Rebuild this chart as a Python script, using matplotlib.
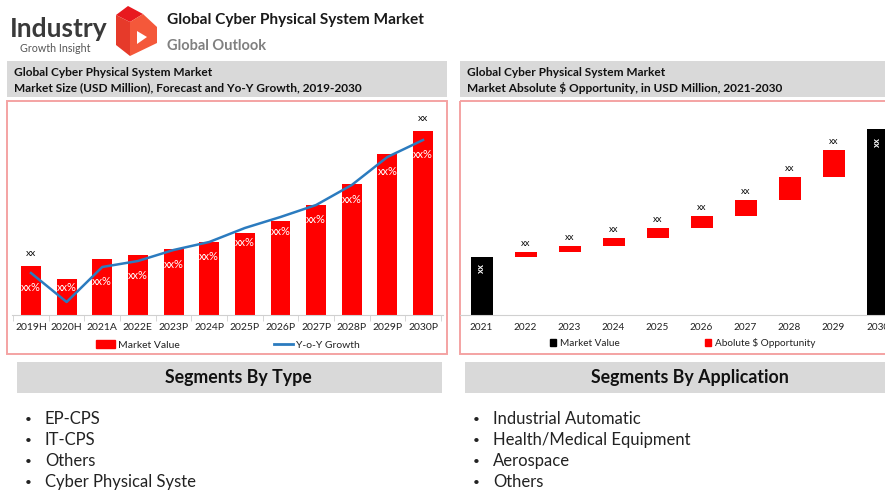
import numpy as np
import matplotlib
matplotlib.use("Agg")
import matplotlib.pyplot as plt
from matplotlib.patches import Rectangle, Polygon, Patch
from matplotlib.lines import Line2D

plt.rcParams['font.family'] = ['Lato', 'DejaVu Sans']

# ---------------- data ----------------
years_left = ["2019H", "2020H", "2021A", "2022E", "2023P", "2024P",
              "2025P", "2026P", "2027P", "2028P", "2029P", "2030P"]
market_value = [49, 36, 56, 60, 66, 73, 82, 94, 110, 131, 161, 184]
yoy_growth = [42, 13, 48, 54, 65, 73, 87, 98, 110, 130, 158, 175]

years_right = ["2021", "2022", "2023", "2024", "2025", "2026",
               "2027", "2028", "2029", "2030"]
start_value = 58
increments = [5, 6, 8, 10, 12, 16, 23, 27]
end_value = 186

type_segments = ["EP-CPS", "IT-CPS", "Others", "Cyber Physical Syste"]
app_segments = ["Industrial Automatic", "Health/Medical Equipment",
                "Aerospace", "Others"]

W, H = 885, 490
RED = "#ff0000"
BLUE = "#2b7bbf"
GREY_BOX = "#d9d9d9"
PANEL = "#f4a3a3"

fig = plt.figure(figsize=(W / 100, H / 100), dpi=100)


def fax(x0, y0, x1, y1):
    return [x0 / W, 1 - y1 / H, (x1 - x0) / W, (y1 - y0) / H]


# overlay in pixel coordinates for decorations
ov = fig.add_axes([0, 0, 1, 1], zorder=0)
ov.set_xlim(0, W)
ov.set_ylim(H, 0)
ov.axis("off")

# logo
ov.add_patch(Polygon([(116, 15), (128, 6), (143, 14), (130, 22)], closed=True,
                     color="#e8191f", lw=0))
ov.add_patch(Polygon([(116, 15), (130, 22), (130, 56), (116, 45)], closed=True,
                     color="#e63a2a", lw=0))
ov.add_patch(Polygon([(130, 22), (143, 14), (157, 27), (157, 43), (130, 56)],
                     closed=True, color="#f4583a", lw=0))
ov.add_patch(Polygon([(137, 31), (147, 37), (137, 44)], closed=True,
                     color="white", lw=0))
ov.text(10, 37, "Industry", fontsize=19, fontweight="bold", color="#3a3a3a",
        va="baseline", ha="left")
ov.text(20, 48.5, "Growth Insight", fontsize=7.7, color="#555555",
        va="center", ha="left")
ov.text(167, 20, "Global Cyber Physical System Market", fontsize=11.1,
        fontweight="bold", color="#1a1a1a", va="center", ha="left")
ov.text(167, 46, "Global Outlook", fontsize=10.5, fontweight="bold",
        color="#808080", va="center", ha="left")

# header boxes
ov.add_patch(Rectangle((7, 61), 440, 36, color=GREY_BOX, lw=0))
ov.add_patch(Rectangle((460, 61), 430, 36, color=GREY_BOX, lw=0))
hfs = 8.6
ov.text(14, 72, "Global Cyber Physical System Market", fontsize=hfs,
        fontweight="bold", color="#111111", va="center")
ov.text(14, 88, "Market Size (USD Million), Forecast and Yo-Y Growth, 2019-2030",
        fontsize=hfs, fontweight="bold", color="#111111", va="center")
ov.text(467, 72, "Global Cyber Physical System Market", fontsize=hfs,
        fontweight="bold", color="#111111", va="center")
ov.text(467, 88, "Market Absolute $ Opportunity, in USD Million, 2021-2030",
        fontsize=hfs, fontweight="bold", color="#111111", va="center")

# panel borders
ov.add_patch(Rectangle((7, 101), 440, 253, fill=False, ec=PANEL, lw=1.4))
ov.add_patch(Rectangle((460, 101), 440, 253, fill=False, ec=PANEL, lw=1.4))

# segment boxes
ov.add_patch(Rectangle((17, 362), 425, 31, color=GREY_BOX, lw=0))
ov.add_patch(Rectangle((465, 362), 425, 31, color=GREY_BOX, lw=0))
ov.text(238, 377.5, "Segments By Type", fontsize=12.8, fontweight="bold",
        color="#111111", ha="center", va="center")
ov.text(690, 377.5, "Segments By Application", fontsize=12.8, fontweight="bold",
        color="#111111", ha="center", va="center")
for i, s in enumerate(type_segments):
    y = 419 + 21 * i
    ov.text(28, y, "\u2022", fontsize=8.5, color="#222222", ha="center", va="center")
    ov.text(45, y, s, fontsize=12, color="#222222", ha="left", va="center")
for i, s in enumerate(app_segments):
    y = 419 + 21 * i
    ov.text(476, y, "\u2022", fontsize=8.5, color="#222222", ha="center", va="center")
    ov.text(493, y, s, fontsize=12, color="#222222", ha="left", va="center")

# ---------------- left chart ----------------
ax = fig.add_axes(fax(12, 115, 443, 315), zorder=2)
ax.set_facecolor("none")
xl = np.arange(len(years_left))
ax.bar(xl, market_value, width=0.56, color=RED, zorder=2)
ax.set_xlim(-0.533, 11.56)
ax.set_ylim(0, 200)
ax2 = ax.twinx()
ax2.set_ylim(0, 200)
ax2.plot(xl, yoy_growth, color=BLUE, lw=1.8, zorder=3)
ax2.axis("off")
for s in ["top", "left", "right"]:
    ax.spines[s].set_visible(False)
ax.spines["bottom"].set_color("#d0d0d0")
ax.set_yticks([])
ax.set_xticks(xl)
ax.set_xticklabels(years_left, fontsize=7.5, color="#222222")
ax.tick_params(axis="x", which="major", length=0, pad=6)
ax.set_xticks(np.arange(-0.5, len(years_left), 1), minor=True)
ax.tick_params(axis="x", which="minor", length=4, color="#d0d0d0")
for i in (0, len(years_left) - 1):
    ax.text(xl[i], market_value[i] + 13, "xx", fontsize=7.5, ha="center",
            va="center", color="#111111")
for i, g in enumerate(yoy_growth):
    ax.text(xl[i], max(g - 14, 28), "xx%", fontsize=8, ha="center",
            va="center", color="white", zorder=4)
ax.legend(handles=[Patch(color=RED), Line2D([], [], color=BLUE, lw=2)],
          labels=["Market Value", "Y-o-Y Growth"], loc="center",
          bbox_to_anchor=(228 / W, 1 - 345 / H), bbox_transform=fig.transFigure,
          ncol=2, frameon=False, fontsize=7.5, handlelength=1.8,
          handleheight=0.7, columnspacing=9, handletextpad=0.3,
          labelcolor="#222222")

# ---------------- right chart ----------------
bx = fig.add_axes(fax(460, 115, 900, 315), zorder=2)
bx.set_facecolor("none")
xr = np.arange(len(years_right))
bottoms = start_value + np.concatenate([[0], np.cumsum(increments)[:-1]])
bx.bar(xr[0], start_value, width=0.5, color="black", zorder=2)
bx.bar(xr[-1], end_value, width=0.5, color="black", zorder=2)
bx.bar(xr[1:-1], increments, bottom=bottoms, width=0.5, color=RED, zorder=2)
bx.set_xlim(-0.49, 9.51)
bx.set_ylim(0, 200)
for s in ["top", "left", "right"]:
    bx.spines[s].set_visible(False)
bx.spines["bottom"].set_color("#d0d0d0")
bx.set_yticks([])
bx.set_xticks(xr)
bx.set_xticklabels(years_right, fontsize=7.2, color="#222222")
bx.tick_params(axis="x", length=0, pad=6)
for i, (b, inc) in enumerate(zip(bottoms, increments)):
    bx.text(xr[i + 1], b + inc + 9, "xx", fontsize=6.8, ha="center",
            va="center", color="#111111")
bx.text(xr[0], start_value - 6, "xx", fontsize=6.8, ha="center", va="top",
        color="white", rotation=90, fontweight="bold")
bx.text(xr[-1], end_value - 8, "xx", fontsize=6.8, ha="center", va="top",
        color="white", rotation=90, fontweight="bold")
bx.legend(handles=[Patch(color="black"), Patch(color=RED)],
          labels=["Market Value", "Abolute $ Opportunity"], loc="center",
          bbox_to_anchor=(683 / W, 1 - 343 / H), bbox_transform=fig.transFigure,
          ncol=2, frameon=False, fontsize=7.2, handlelength=0.6,
          handleheight=0.6, columnspacing=8.5, handletextpad=0.4,
          labelcolor="#222222")

fig.savefig("out.png", dpi=100)
